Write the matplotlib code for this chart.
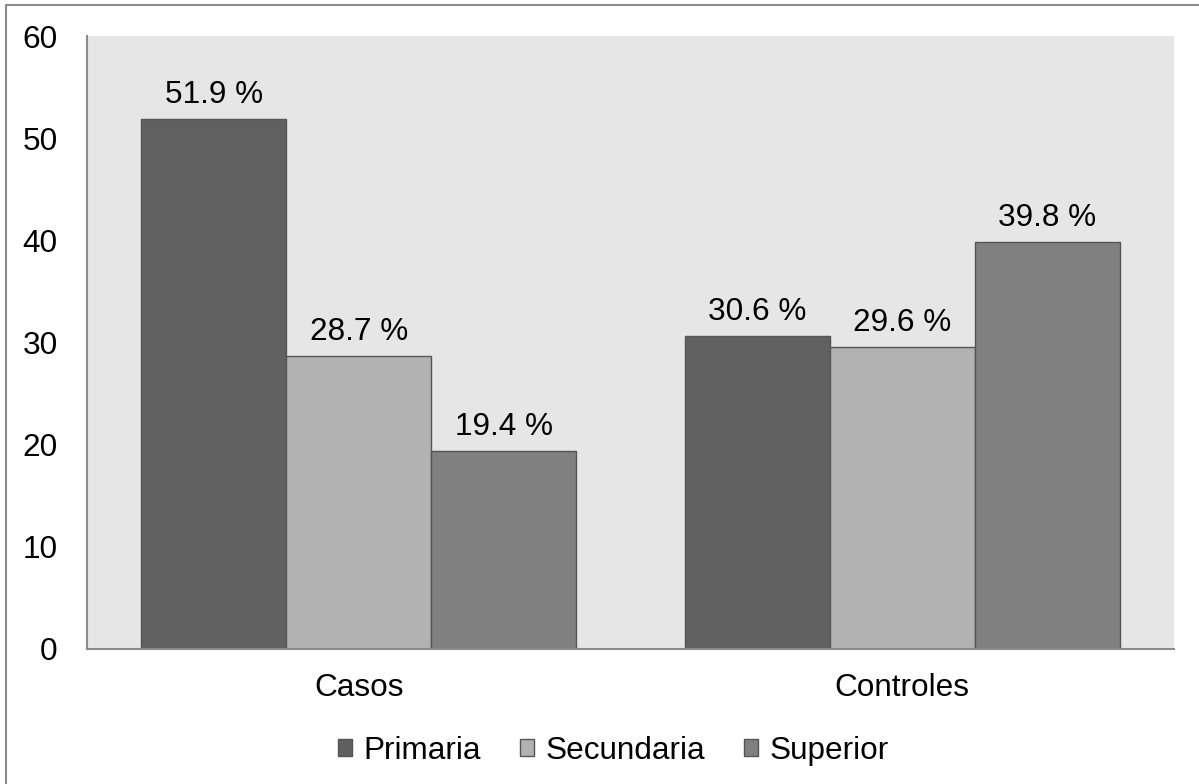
import matplotlib.pyplot as plt
import numpy as np
from matplotlib.patches import Rectangle

plt.rcParams["font.family"] = ["Liberation Sans", "DejaVu Sans"]

groups = ["Casos", "Controles"]
series = ["Primaria", "Secundaria", "Superior"]
primaria = [51.9, 30.6]
secundaria = [28.7, 29.6]
superior = [19.4, 39.8]
colors = ["#606060", "#b2b2b2", "#808080"]
FS = 22.7

fig = plt.figure(figsize=(11.99, 7.84), dpi=100)
ax = fig.add_axes([87 / 1199, 1 - 649 / 784, 1087 / 1199, 613 / 784])
ax.set_facecolor("#e6e6e6")

x = np.arange(len(groups))
w = 0.8 / 3
for i, (vals, c, name) in enumerate(zip([primaria, secundaria, superior], colors, series)):
    bars = ax.bar(x + (i - 1) * w, vals, w, color=c, edgecolor="#555555",
                  linewidth=1, label=name)
    for b, v in zip(bars, vals):
        ax.annotate(f"{v} %", (b.get_x() + b.get_width() / 2, v),
                    xytext=(0, 6.5), textcoords="offset points",
                    ha="center", va="bottom", fontsize=FS)

ax.set_xlim(-0.5, 1.5)
ax.set_ylim(0, 60)
ax.set_yticks(range(0, 61, 10))
ax.set_xticks(x)
ax.set_xticklabels(groups)
ax.tick_params(axis="both", length=0, labelsize=FS)
ax.tick_params(axis="y", pad=21)
ax.tick_params(axis="x", pad=17)
for s in ["top", "right"]:
    ax.spines[s].set_visible(False)
for s in ["left", "bottom"]:
    ax.spines[s].set_color("#8c8c8c")
    ax.spines[s].set_linewidth(1.5)

ax.legend(loc="center", bbox_to_anchor=(0.484, -0.166), ncol=3, frameon=False,
          fontsize=FS, handlelength=0.45, handleheight=0.45, handletextpad=0.35,
          columnspacing=1.25, borderaxespad=0)

# outer chart border
fig.patches.append(Rectangle((6 / 1199, -0.1), 1.2, 1 - 5 / 784 + 0.1,
                             transform=fig.transFigure, fill=False,
                             edgecolor="#8c8c8c", linewidth=1.5))

fig.savefig("out.png", dpi=100)
